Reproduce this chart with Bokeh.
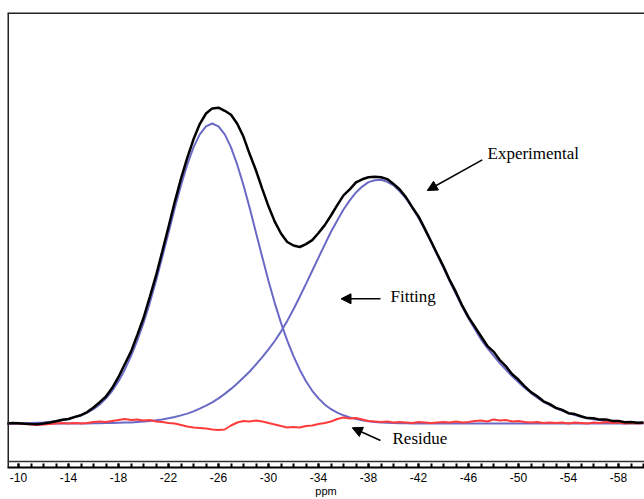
import numpy as np
from bokeh.plotting import figure
from bokeh.models import Range1d, FixedTicker, Span, Arrow, NormalHead, Label
from bokeh.embed import file_html
from bokeh.resources import INLINE

# sampling grid (ppm), -9 to -60 in 0.5 ppm steps
ppm = np.arange(-9.0, -60.25, -0.5)

# fitted component 1 (centre ~ -25.5 ppm)
fit1 = [0.0, 0.1, 0.2, 0.3, 0.4, 0.7, 1.0, 1.5, 2.3, 3.3, 4.5, 6.1, 8.2, 10.8,
        14.3, 19.0, 25.1, 32.7, 42.3, 53.8, 67.3, 82.9, 100.6, 120.4, 142.6,
        166.4, 190.8, 215.2, 238.2, 258.8, 276.1, 289.1, 297.2, 300.0, 297.2,
        289.1, 276.1, 258.8, 238.2, 215.2, 190.8, 166.4, 142.6, 120.4, 100.6,
        82.9, 67.3, 53.8, 42.3, 32.7, 25.1, 19.0, 14.3, 10.8, 8.2, 6.1, 4.5,
        3.3, 2.3, 1.5, 1.0, 0.7, 0.4, 0.3, 0.2, 0.1] + [0.0] * 37

# fitted component 2 (centre ~ -38.8 ppm)
fit2 = [0.0] * 12 + [
        0.1, 0.1, 0.2, 0.3, 0.4, 0.5, 0.7, 0.9, 1.1, 1.5, 1.9, 2.5, 3.2, 4.1,
        5.2, 6.5, 8.1, 9.9, 12.1, 14.8, 17.8, 21.1, 25.1, 29.6, 34.6, 40.0,
        46.0, 52.0, 59.2, 66.3, 74.1, 82.5, 91.9, 102.6, 114.2, 126.7, 139.6,
        152.7, 165.9, 178.9, 191.7, 203.1, 214.0, 223.1, 231.1, 236.9, 241.4,
        243.3, 243.8, 241.7, 238.2, 232.2, 225.0, 215.7, 205.6, 193.9, 181.7,
        168.5, 155.5, 142.3, 129.3, 116.8, 104.9, 94.4, 84.2, 75.7, 67.9, 60.5,
        53.6, 47.2, 41.2, 35.6, 30.4, 25.8, 21.7, 18.3, 15.1, 12.6, 10.3, 8.4,
        6.8, 5.4, 4.3, 3.4, 2.6, 2.1, 1.6, 1.2, 0.9, 0.7, 0.5]

# residue (experimental - fitting)
residue = [0, 0.5, 0, -0.5, -1, -1.5, -1, -0.5, 0, 0.5, 0, 0.5, 0, 0.5, 1.5, 2,
           1.5, 2.5, 3.5, 4.5, 3.5, 4, 3, 3.5, 2, 1.5, 0.5, 0, -1.5, -3, -4,
           -4.5, -5, -6, -6.5, -6, -2, 1, 2.5, 2, 3, 2, 0.5, -1, -2.5, -4,
           -3.5, -4, -2.5, -2, -0.5, 0.5, 2, 4.5, 6, 5, 5.5, 4, 2.5, 2, 1.5, 2,
           1, 1.5, 1, 0.5, 1.5, 1, 0.5, 1, 1.5, 1, 2, 1, 1.5, 2.5, 3, 2, 4, 3,
           3.5, 2, 2.5, 1.5, 1, 1.5, 0.5, 1, 0.5, 1, 0, 1, 0.5, 0, 1, 0.5, 1.5,
           0.5, 1, 0, 0.5, 0, 0.5]

# experimental spectrum
experimental = [0, 0.6, 0.2, -0.2, -0.6, -0.8, 0.0, 1.0, 2.3, 3.8, 4.5, 6.6, 8.3,
                11.4, 16.0, 21.3, 27.0, 35.7, 46.5, 59.2, 71.9, 88.4, 105.5,
                126.4, 147.8, 172.0, 196.5, 221.7, 244.8, 265.7, 284.2, 299.4,
                310.0, 315.1, 315.8, 312.7, 308.7, 299.8, 286.7, 269.2, 253.0,
                234.7, 217.2, 201.9, 190.0, 181.5, 178.0, 176.5, 179.4, 183.4,
                190.5, 198.4, 208.0, 218.4, 228.2, 234.2, 241.1, 244.2, 246.2,
                246.8, 246.3, 244.4, 239.6, 234.0, 226.2, 216.3, 207.1, 194.9,
                182.2, 169.5, 157.0, 143.3, 131.3, 117.8, 106.4, 96.9, 87.2,
                77.7, 71.9, 63.5, 57.1, 49.2, 43.7, 37.1, 31.4, 27.3, 22.2,
                19.3, 15.6, 13.6, 10.3, 9.4, 7.3, 5.4, 5.3, 3.9, 4.1, 2.6, 2.6,
                1.2, 1.4, 0.7, 1.0]

major_ticks = [-10, -14, -18, -22, -26, -30, -34, -38, -42, -46, -50, -54, -58]
minor_ticks = list(range(-9, -61, -1))
tick_labels = {t: str(t) for t in major_ticks}

X0, X1 = -9.12, -60.08
Y0, Y1 = -44, 411

p = figure(width=644, height=499, x_range=Range1d(X0, X1), y_range=Range1d(Y0, Y1),
           output_backend="svg", toolbar_location=None, y_axis_location=None,
           min_border_left=7, min_border_right=0, min_border_top=12, min_border_bottom=32)
p.grid.visible = False
p.outline_line_color = None
p.background_fill_color = "white"
p.border_fill_color = "white"

ax = p.xaxis[0]
ax.ticker = FixedTicker(ticks=major_ticks, minor_ticks=minor_ticks)
ax.major_label_overrides = tick_labels
ax.axis_line_width = 2
ax.axis_line_color = "black"
ax.major_tick_in = 4
ax.major_tick_out = 0
ax.minor_tick_in = 4
ax.minor_tick_out = 0
ax.major_tick_line_width = 2
ax.minor_tick_line_width = 2
ax.major_label_standoff = 5
ax.major_label_text_font = "Liberation Sans"
ax.major_label_text_font_size = "12px"
ax.major_label_text_color = "black"
ax.axis_label = "ppm"
ax.axis_label_standoff = 0
ax.axis_label_text_font = "Liberation Sans"
ax.axis_label_text_font_size = "11px"
ax.axis_label_text_font_style = "normal"
ax.axis_label_text_color = "black"

# box frame lines (left, top, bottom of box)
p.add_layout(Span(location=X0 - 0.04, dimension="height", line_color="#222222", line_width=2))
p.add_layout(Span(location=Y1 - 0.5, dimension="width", line_color="#222222", line_width=2))
p.add_layout(Span(location=-38, dimension="width", line_color="#333333", line_width=1.5))

p.line(ppm, fit1, line_color="#6a6ac6", line_width=2)
p.line(ppm, fit2, line_color="#6a6ac6", line_width=2)
p.line(ppm, residue, line_color="#ff3c3c", line_width=2)
p.line(ppm, experimental, line_color="black", line_width=2.5)

serif = "Liberation Serif"
for (xs, ys, xe, ye) in [(-47.1, 263.7, -42.7, 233.0),
                         (-38.96, 124.7, -35.8, 124.7),
                         (-38.96, -17.0, -36.7, -4.3)]:
    p.add_layout(Arrow(end=NormalHead(size=10, fill_color="black", line_color="black"),
                       x_start=xs, y_start=ys, x_end=xe, y_end=ye,
                       line_color="black", line_width=1.5))

p.add_layout(Label(x=-47.52, y=261, text="Experimental", text_font=serif,
                   text_font_size="17px", text_color="black"))
p.add_layout(Label(x=-39.76, y=118, text="Fitting", text_font=serif,
                   text_font_size="17px", text_color="black"))
p.add_layout(Label(x=-39.92, y=-24, text="Residue", text_font=serif,
                   text_font_size="17px", text_color="black"))

open("out.html", "w").write(file_html(p, INLINE))
